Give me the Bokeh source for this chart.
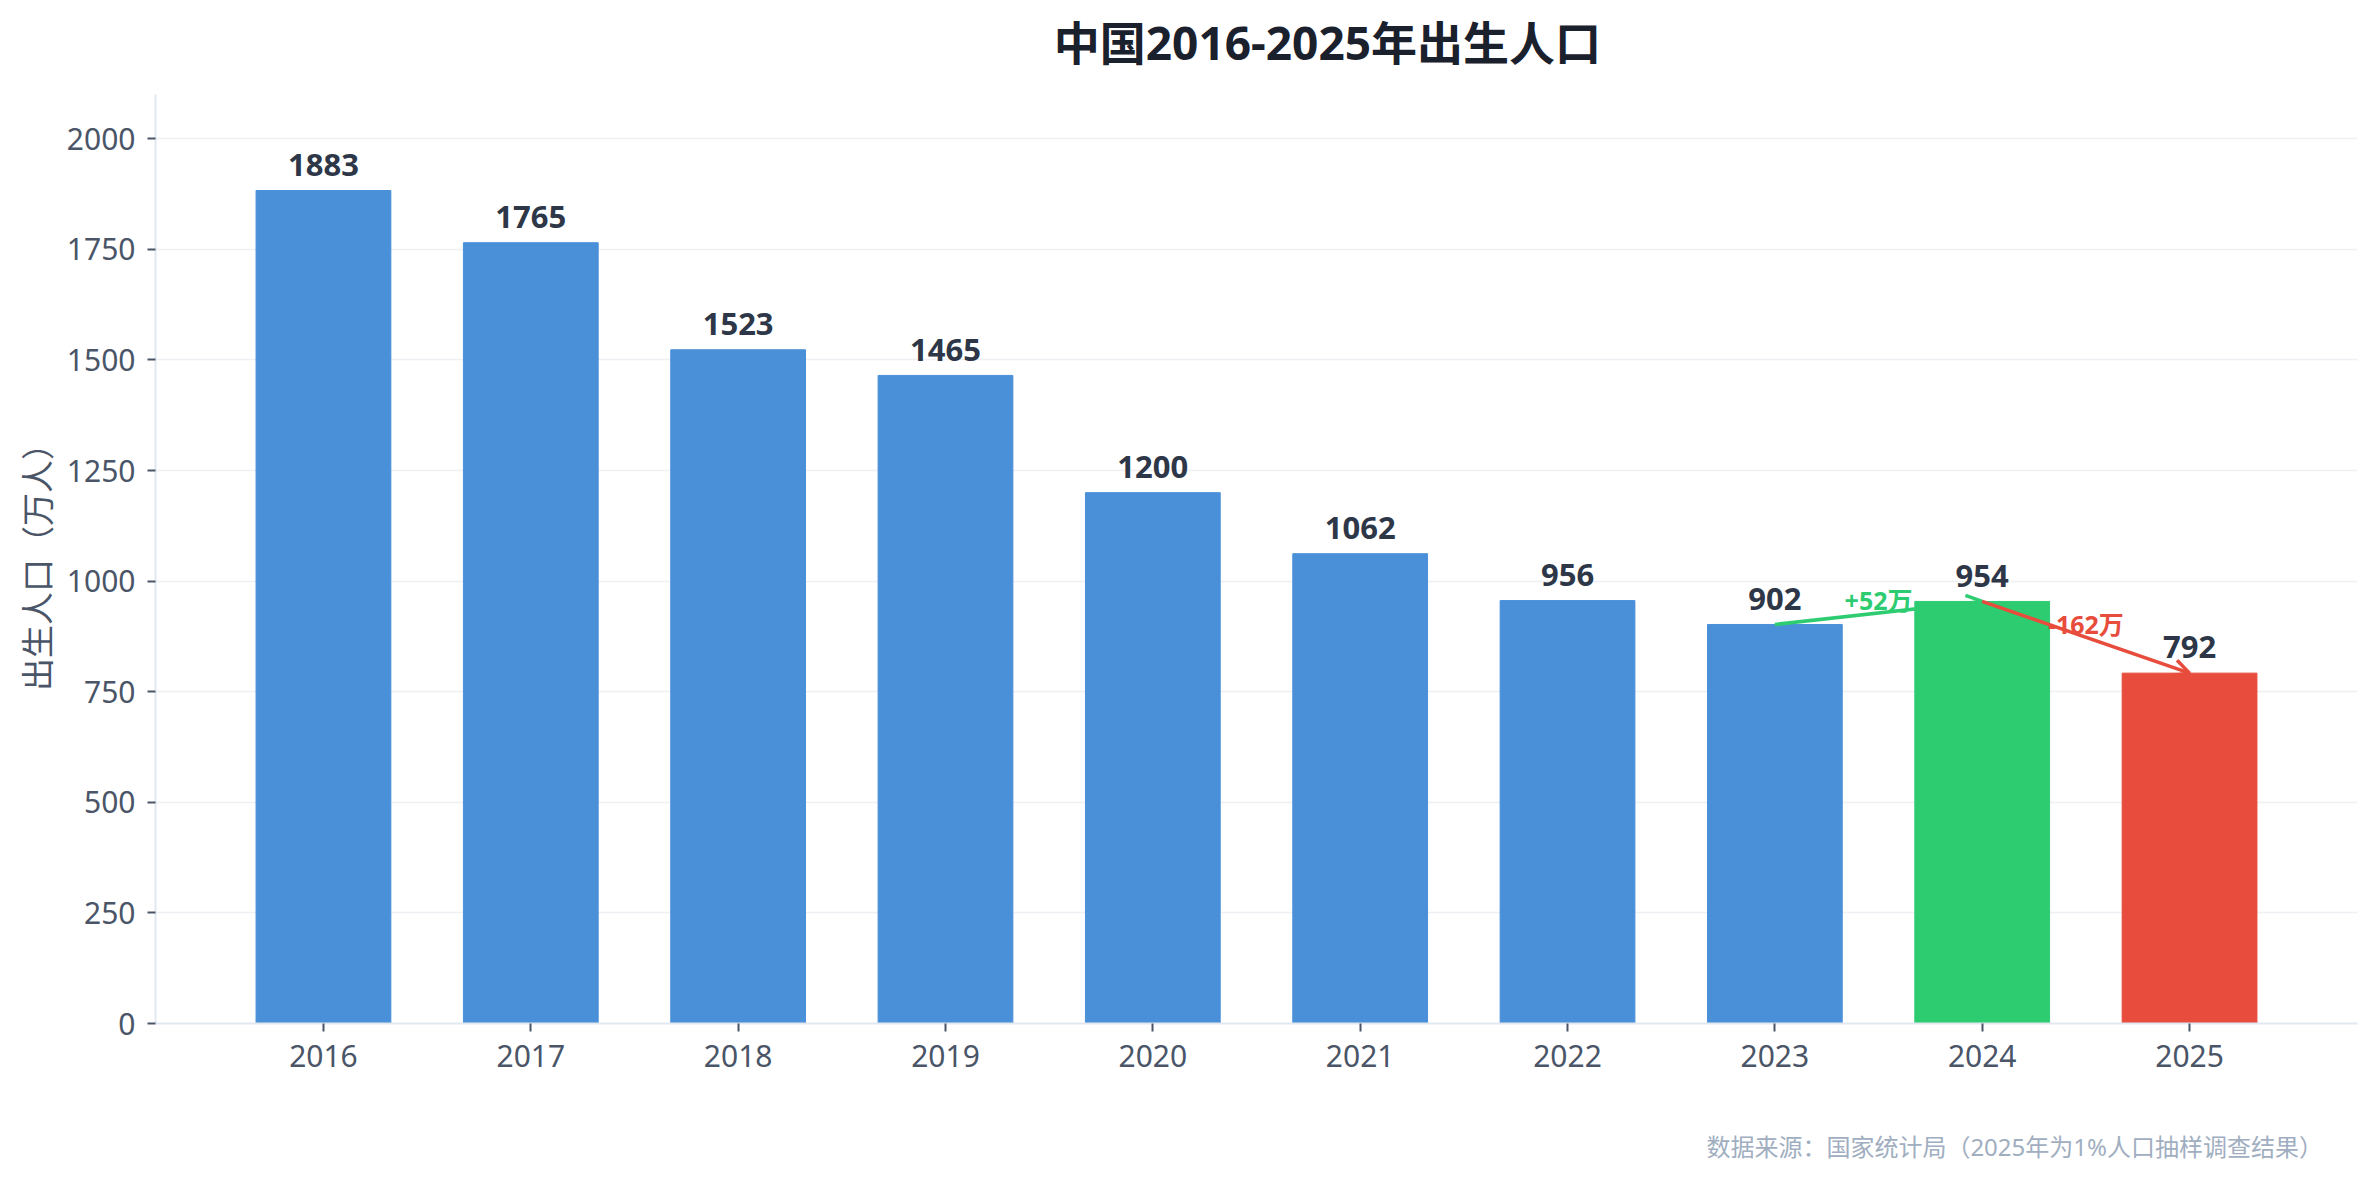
from bokeh.plotting import figure
from bokeh.layouts import column
from bokeh.models import FixedTicker, Label, Arrow, OpenHead, ColumnDataSource, Range1d
from bokeh.core.properties import value
from bokeh.embed import file_html
from bokeh.resources import INLINE

years = ["2016", "2017", "2018", "2019", "2020", "2021", "2022", "2023", "2024", "2025"]
births = [1883, 1765, 1523, 1465, 1200, 1062, 956, 902, 954, 792]
bar_colors = ["#4a90d9"] * 8 + ["#2ecc71", "#e74c3c"]
y_ticks = [0, 250, 500, 750, 1000, 1250, 1500, 1750, 2000]
change_labels = ["+52万", "-162万"]
title_text = "中国2016-2025年出生人口"
source_text = "数据来源：国家统计局（2025年为1%人口抽样调查结果）"

FONT = "Noto Sans, Noto Sans CJK SC"
W = 2360
idx = list(range(len(years)))


def text_strip(height, tx, ty, txt, align, size, color, style):
    f = figure(width=W, height=height, output_backend="svg", toolbar_location=None,
               x_range=Range1d(0, W), y_range=Range1d(0, height), title=None,
               x_axis_type=None, y_axis_type=None,
               min_border_left=0, min_border_right=0, min_border_top=0, min_border_bottom=0)
    f.outline_line_color = None
    f.xgrid.grid_line_color = None
    f.ygrid.grid_line_color = None
    f.text(x=[tx], y=[ty], text=[txt], text_align=align, text_baseline="middle",
           text_font=value(FONT), text_font_style=style, text_font_size=size, text_color=color)
    return f


top_strip = text_strip(80, 1256, 39, title_text, "center", "46px", "#1a202c", "bold")
bottom_strip = text_strip(80, 2323, 27, source_text, "right", "24px", "#a0aec0", "normal")

src = ColumnDataSource(dict(x=idx, top=births, color=bar_colors,
                            label=[str(v) for v in births],
                            ly=[v + 58 for v in births]))

p = figure(width=W, height=1013, output_backend="svg", toolbar_location=None, title=None,
           x_range=Range1d(-0.81, 9.81), y_range=Range1d(0, 2100),
           min_border_left=155, min_border_right=3, min_border_top=14, min_border_bottom=70)
p.outline_line_color = None
p.background_fill_color = "white"

p.vbar(x="x", top="top", width=0.65, color="color", source=src)
p.text(x="x", y="ly", text="label", source=src, text_align="center", text_baseline="middle",
       text_font=value(FONT), text_font_style="bold", text_font_size="31px", text_color="#2d3748")

# axes
p.xaxis.ticker = FixedTicker(ticks=idx)
p.xaxis.major_label_overrides = {i: y for i, y in zip(idx, years)}
p.yaxis.ticker = FixedTicker(ticks=y_ticks)
for ax in (p.xaxis, p.yaxis):
    ax.axis_line_color = "#e2e8f0"
    ax.axis_line_width = 2
    ax.major_tick_line_color = "#4a5568"
    ax.major_tick_line_width = 2
    ax.major_tick_out = 8
    ax.major_tick_in = 0
    ax.minor_tick_line_color = None
    ax.major_label_text_font = FONT
    ax.major_label_text_font_size = "30px"
    ax.major_label_text_color = "#4a5568"
p.xaxis.major_label_standoff = 13
p.yaxis.major_label_standoff = 12
p.yaxis.axis_label = "出生人口（万人）"
p.yaxis.axis_label_text_font = FONT
p.yaxis.axis_label_text_font_size = "33px"
p.yaxis.axis_label_text_font_style = "normal"
p.yaxis.axis_label_text_color = "#4a5568"
p.yaxis.axis_label_standoff = 4

p.xgrid.grid_line_color = None
p.ygrid.grid_line_color = "#edf0f4"
p.ygrid.grid_line_width = 1.5

# change arrows
arrow_specs = [(7, 8, "#2ecc71", change_labels[0]), (8, 9, "#e74c3c", change_labels[1])]
for a, b, c, t in arrow_specs:
    p.add_layout(Arrow(end=OpenHead(line_color=c, line_width=3.5, size=16),
                       x_start=idx[a], y_start=births[a], x_end=idx[b], y_end=births[b],
                       line_color=c, line_width=3.5))
    p.add_layout(Label(x=(idx[a] + idx[b]) / 2, y=(births[a] + births[b]) / 2 + 30, text=t,
                       text_align="center", text_baseline="middle", text_font=FONT,
                       text_font_style="bold", text_font_size="25px", text_color=c))

layout = column(top_strip, p, bottom_strip, spacing=0)
open("out.html", "w").write(file_html(layout, INLINE))
